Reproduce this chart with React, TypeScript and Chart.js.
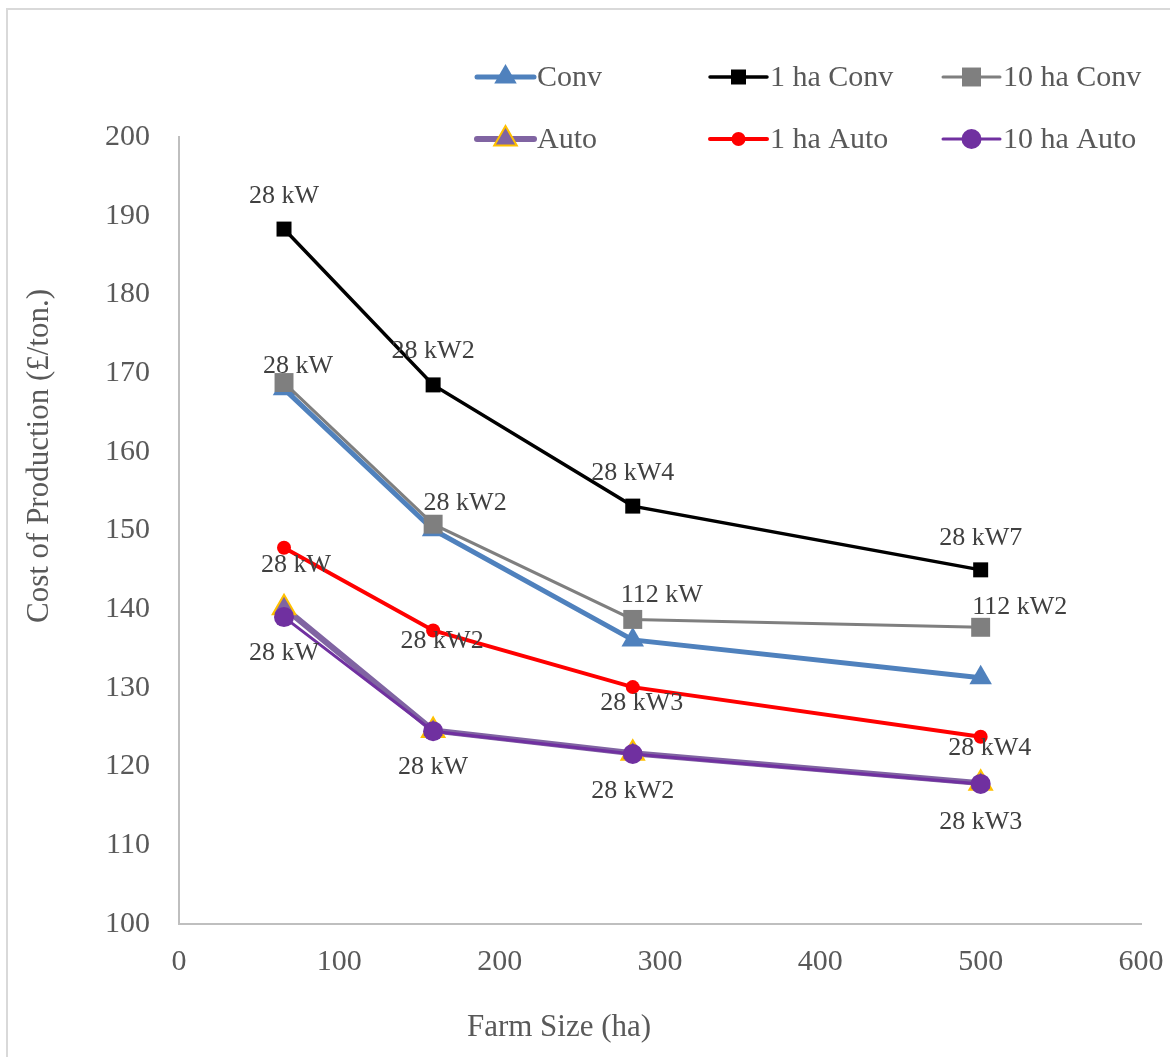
import React, { useEffect, useRef } from "react";
import { Chart, registerables } from "chart.js";

Chart.register(...registerables);

const farmSizes = [65.5, 158.5, 283, 500];
const conv = [168.0, 150.1, 136.1, 131.3];
const conv1ha = [188.3, 168.5, 153.1, 145.0];
const conv10ha = [168.8, 150.8, 138.7, 137.7];
const auto = [140.2, 124.6, 121.7, 117.9];
const auto1ha = [147.8, 137.3, 130.1, 123.8];
const auto10ha = [139.0, 124.5, 121.6, 117.8];

const conv1haLabels = ["28 kW", "28 kW2", "28 kW4", "28 kW7"];
const conv10haLabels = ["28 kW", "28 kW2", "112 kW", "112 kW2"];
const auto1haLabels = ["28 kW", "28 kW2", "28 kW3", "28 kW4"];
const auto10haLabels = ["28 kW", "28 kW", "28 kW2", "28 kW3"];

const xTitle = "Farm Size (ha)";
const yTitle = "Cost of Production (£/ton.)";

const FONT = "'Liberation Serif', 'Times New Roman', serif";
const TEXT = "#595959";

function pts(ys: number[]) {
  return farmSizes.map((x, i) => ({ x, y: ys[i] }));
}

function drawMarker(ctx: CanvasRenderingContext2D, style: string, x: number, y: number, r: number, fill: string, stroke: string, bw: number) {
  ctx.save();
  ctx.beginPath();
  if (style === "rect") {
    const s = r / Math.SQRT2;
    ctx.rect(x - s, y - s, 2 * s, 2 * s);
  } else if (style === "triangle") {
    let rad = 0;
    ctx.moveTo(x + Math.sin(rad) * r, y - Math.cos(rad) * r);
    rad += (2 * Math.PI) / 3;
    ctx.lineTo(x + Math.sin(rad) * r, y - Math.cos(rad) * r);
    rad += (2 * Math.PI) / 3;
    ctx.lineTo(x + Math.sin(rad) * r, y - Math.cos(rad) * r);
    ctx.closePath();
  } else {
    ctx.arc(x, y, r, 0, Math.PI * 2);
  }
  ctx.fillStyle = fill;
  ctx.fill();
  if (bw > 0) {
    ctx.lineWidth = bw;
    ctx.strokeStyle = stroke;
    ctx.stroke();
  }
  ctx.restore();
}

const overlayPlugin = {
  id: "overlay",
  afterDatasetsDraw(chart: any) {
    const ctx: CanvasRenderingContext2D = chart.ctx;
    ctx.save();
    ctx.font = `26px ${FONT}`;
    ctx.fillStyle = "#404040";
    ctx.textAlign = "center";
    ctx.textBaseline = "middle";
    chart.data.datasets.forEach((ds: any, di: number) => {
      if (!ds.pointLabels) return;
      const meta = chart.getDatasetMeta(di);
      meta.data.forEach((el: any, i: number) => {
        const off = ds.labelOffsets[i];
        ctx.fillText(ds.pointLabels[i], el.x + off[0], el.y + off[1]);
      });
    });
    ctx.restore();
  },
  afterDraw(chart: any) {
    const ctx: CanvasRenderingContext2D = chart.ctx;
    const area = chart.chartArea;
    ctx.save();
    // axis titles
    ctx.fillStyle = TEXT;
    ctx.font = `31px ${FONT}`;
    ctx.textAlign = "center";
    ctx.textBaseline = "middle";
    ctx.fillText(xTitle, area.left + 380, area.bottom + 104);
    ctx.save();
    ctx.translate(40, area.top + 319);
    ctx.rotate(-Math.PI / 2);
    ctx.fillText(yTitle, 0, 0);
    ctx.restore();

    // legend
    const cols = [area.left + 298, area.left + 531, area.left + 764];
    const rows = [area.top - 60, area.top + 2];
    const order = ["Conv", "1 ha Conv", "10 ha Conv", "Auto", "1 ha Auto", "10 ha Auto"];
    ctx.font = `30px ${FONT}`;
    ctx.textAlign = "left";
    order.forEach((name, k) => {
      const ds = chart.data.datasets.find((d: any) => d.label === name);
      const x0 = cols[k % 3];
      const y0 = rows[Math.floor(k / 3)];
      const len = 57;
      ctx.save();
      ctx.strokeStyle = ds.borderColor;
      ctx.lineWidth = ds.borderWidth;
      ctx.lineCap = "round";
      ctx.beginPath();
      ctx.moveTo(x0, y0);
      ctx.lineTo(x0 + len, y0);
      ctx.stroke();
      ctx.restore();
      drawMarker(ctx, ds.pointStyle, x0 + len / 2, y0, ds.pointRadius, ds.pointBackgroundColor, ds.pointBorderColor, ds.pointBorderWidth);
      ctx.fillStyle = TEXT;
      ctx.fillText(name, x0 + len + 3, y0 + 1);
    });
    ctx.restore();
  },
};

export default function App() {
  const ref = useRef<HTMLCanvasElement>(null);
  useEffect(() => {
    document.body.style.overflow = "hidden";
    const canvas = ref.current!;
    const chart = new Chart(canvas, {
      type: "line",
      data: {
        datasets: [
          {
            label: "10 ha Auto",
            data: pts(auto10ha),
            borderColor: "#7030a0",
            borderWidth: 3,
            pointStyle: "circle",
            pointRadius: 10,
            pointBackgroundColor: "#7030a0",
            pointBorderColor: "#7030a0",
            pointBorderWidth: 0,
            order: 0,
            pointLabels: auto10haLabels,
            labelOffsets: [[0, 36], [0, 36], [0, 37], [0, 38]],
          } as any,
          {
            label: "10 ha Conv",
            data: pts(conv10ha),
            borderColor: "#7f7f7f",
            borderWidth: 3,
            pointStyle: "rect",
            pointRadius: 13.4,
            pointBackgroundColor: "#7f7f7f",
            pointBorderColor: "#7f7f7f",
            pointBorderWidth: 0,
            order: 1,
            pointLabels: conv10haLabels,
            labelOffsets: [[14, -16], [32, -21], [29, -24], [39, -20]],
          },
          {
            label: "1 ha Auto",
            data: pts(auto1ha),
            borderColor: "#ff0000",
            borderWidth: 4,
            pointStyle: "circle",
            pointRadius: 7,
            pointBackgroundColor: "#ff0000",
            pointBorderColor: "#ff0000",
            pointBorderWidth: 0,
            order: 2,
            pointLabels: auto1haLabels,
            labelOffsets: [[12, 17], [9, 11], [9, 16], [9, 11]],
          },
          {
            label: "1 ha Conv",
            data: pts(conv1ha),
            borderColor: "#000000",
            borderWidth: 3.5,
            pointStyle: "rect",
            pointRadius: 10.6,
            pointBackgroundColor: "#000000",
            pointBorderColor: "#000000",
            pointBorderWidth: 0,
            order: 3,
            pointLabels: conv1haLabels,
            labelOffsets: [[0, -33], [0, -34], [0, -33], [0, -32]],
          },
          {
            label: "Auto",
            data: pts(auto),
            borderColor: "#8064a2",
            borderWidth: 6,
            pointStyle: "triangle",
            pointRadius: 13,
            pointBackgroundColor: "#8064a2",
            pointBorderColor: "#ffc000",
            pointBorderWidth: 2,
            order: 4,
          },
          {
            label: "Conv",
            data: pts(conv),
            borderColor: "#4f81bd",
            borderWidth: 5,
            pointStyle: "triangle",
            pointRadius: 13,
            pointBackgroundColor: "#4f81bd",
            pointBorderColor: "#4f81bd",
            pointBorderWidth: 0,
            order: 5,
          },
        ] as any,
      },
      options: {
        animation: false,
        responsive: true,
        maintainAspectRatio: false,
        devicePixelRatio: 1,
        layout: { padding: { top: 137, right: 29, left: 0, bottom: 0 } },
        plugins: { legend: { display: false }, tooltip: { enabled: false } },
        elements: { line: { tension: 0 } },
        scales: {
          x: {
            type: "linear",
            min: 0,
            max: 600,
            grid: { display: false, drawTicks: false },
            border: { display: true, color: "#bfbfbf", width: 2 },
            ticks: { stepSize: 100, color: TEXT, font: { family: FONT, size: 30 }, padding: 20, maxRotation: 0 },
            afterFit: (s: any) => { s.height = 133; s.paddingRight = 0; s.paddingLeft = 0; },
          },
          y: {
            type: "linear",
            min: 100,
            max: 200,
            grid: { display: false, drawTicks: false },
            border: { display: true, color: "#bfbfbf", width: 2 },
            ticks: { stepSize: 10, color: TEXT, font: { family: FONT, size: 30 }, padding: 29 },
            afterFit: (s: any) => { s.width = 179; s.paddingTop = 0; s.paddingBottom = 0; },
          },
        },
      },
      plugins: [overlayPlugin],
    });
    return () => chart.destroy();
  }, []);

  return (
    <div style={{ position: "fixed", left: 0, top: 0, width: 1170, height: 1057, overflow: "hidden", background: "#fff" }}>
      <div style={{ position: "absolute", left: 6, top: 8, width: 1190, height: 1100, border: "2px solid #d9d9d9" }} />
      <div style={{ position: "absolute", left: 0, top: 0, width: 1170, height: 1057 }}>
        <canvas ref={ref} />
      </div>
    </div>
  );
}
